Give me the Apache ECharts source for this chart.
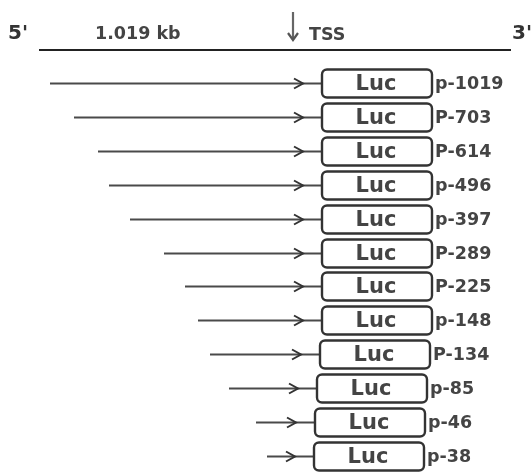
<!DOCTYPE html>
<html><head><meta charset="utf-8">
<script src="https://cdn.jsdelivr.net/npm/echarts@6/dist/echarts.min.js"></script>
<style>html,body{margin:0;padding:0;background:#fff}#c{width:531px;height:473px}</style>
</head><body><div id="c"></div>
<script>
// Deletion constructs (top to bottom)
const constructs = ['p-1019','P-703','P-614','p-496','p-397','P-289','P-225','p-148','P-134','p-85','p-46','p-38'];
// 5' start of each promoter fragment (diagram x units)
const lineStart = [50, 74, 98, 109, 130, 164, 185, 198, 210, 229, 256, 267];
// Left edge of the Luc reporter box (diagram x units)
const boxStart = [322, 322, 322, 322, 322, 322, 322, 322, 320, 317, 315, 314];
const reporter = 'Luc';
const header = { left: "5'", right: "3'", size: '1.019 kb', tss: 'TSS' };

const chart = echarts.init(document.getElementById('c'), null, {renderer: 'canvas'});
const data = constructs.map((n, i) => [lineStart[i], i, boxStart[i]]);
const FONT = '"DejaVu Sans", Verdana, sans-serif';

function renderItem(params, api) {
  const row = api.value(1);
  const s = api.coord([api.value(0), row]);
  const b = api.coord([api.value(2), row]);
  const y = Math.round(s[1]) + 0.5;
  const bw = 110, bh = 28;
  const tip = b[0] - 19;
  return {
    type: 'group',
    children: [
      {type: 'line', shape: {x1: s[0], y1: y, x2: b[0], y2: y}, style: {stroke: '#4a4a4a', lineWidth: 2}},
      {type: 'polyline', shape: {points: [[tip - 9, y - 5], [tip, y], [tip - 9, y + 5]]}, style: {stroke: '#333', lineWidth: 2, fill: null}},
      {type: 'rect', shape: {x: b[0], y: y - bh / 2, width: bw, height: bh, r: 5}, style: {fill: '#fff', stroke: '#333', lineWidth: 2.4}},
      {type: 'text', style: {x: b[0] + bw / 2 - 1, y: y + 1, text: reporter, align: 'center', verticalAlign: 'middle', font: 'bold 21px ' + FONT, fill: '#444'}},
      {type: 'text', style: {x: b[0] + bw + 3, y: y + 1, text: constructs[params.dataIndex], align: 'left', verticalAlign: 'middle', font: 'bold 17.5px ' + FONT, fill: '#444'}}
    ]
  };
}

chart.setOption({
  animation: false,
  backgroundColor: '#fff',
  grid: {left: 0, right: 0, top: 66, height: 413},
  xAxis: {type: 'value', min: 0, max: 531, show: false},
  yAxis: {type: 'category', data: constructs, inverse: true, show: false},
  graphic: [
    {type: 'line', shape: {x1: 39, y1: 50, x2: 511, y2: 50}, style: {stroke: '#222', lineWidth: 2}},
    {type: 'text', style: {x: 8, y: 34, text: header.left, verticalAlign: 'middle', font: 'bold 20px ' + FONT, fill: '#333'}},
    {type: 'text', style: {x: 512, y: 34, text: header.right, verticalAlign: 'middle', font: 'bold 20px ' + FONT, fill: '#333'}},
    {type: 'text', style: {x: 95, y: 34, text: header.size, verticalAlign: 'middle', font: 'bold 17.5px ' + FONT, fill: '#444'}},
    {type: 'text', style: {x: 309, y: 35, text: header.tss, verticalAlign: 'middle', font: 'bold 17.5px ' + FONT, fill: '#444'}},
    {type: 'line', shape: {x1: 293, y1: 12, x2: 293, y2: 39}, style: {stroke: '#666', lineWidth: 2.2}},
    {type: 'polyline', shape: {points: [[288, 33], [293, 40], [298, 33]]}, style: {stroke: '#555', lineWidth: 2.2, fill: null}}
  ],
  series: [{
    type: 'custom',
    renderItem: renderItem,
    data: data,
    clip: false
  }]
});
</script>
</body></html>
